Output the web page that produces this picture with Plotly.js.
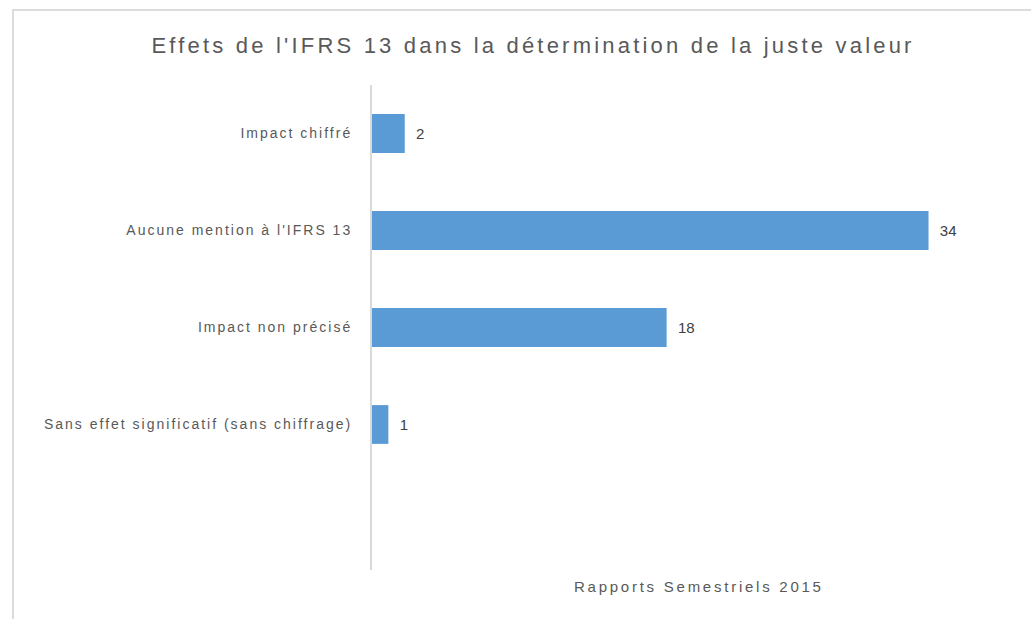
<!DOCTYPE html>
<html>
<head>
<meta charset="utf-8">
<script src="https://cdn.plot.ly/plotly-3.0.1.min.js"></script>
<style>
  html, body { margin: 0; padding: 0; background: #fff; }
  #wrap { position: relative; width: 1031px; height: 619px; overflow: hidden; }
  #chart { position: absolute; left: 0; top: 0; width: 1031px; height: 619px; }
  #frame { position: absolute; left: 12px; top: 9px; width: 1040px; height: 640px;
           border-left: 2px solid #dcdcdc; border-top: 2px solid #dcdcdc; pointer-events: none; }
  .gtitle { letter-spacing: 3.2px; }
  .ytick text { letter-spacing: 2.0px; }
  .annotation-text { letter-spacing: 2.75px; }
</style>
</head>
<body>
<div id="wrap">
  <div id="chart"></div>
  <div id="frame"></div>
</div>
<script>
const categories = [
  "Impact chiffré",
  "Aucune mention à l'IFRS 13",
  "Impact non précisé",
  "Sans effet significatif (sans chiffrage)"
];
const values = [2, 34, 18, 1];
const seriesName = "Rapports Semestriels 2015";
const chartTitle = "Effets de l'IFRS 13 dans la détermination de la juste valeur";

const trace = {
  type: 'bar',
  orientation: 'h',
  x: values,
  y: categories,
  name: seriesName,
  marker: { color: '#5b9bd5' },
  text: values.map(v => '  ' + v),
  textposition: 'outside',
  textfont: { family: 'Liberation Sans, Arial, sans-serif', size: 15, color: '#404040' },
  cliponaxis: false,
  hoverinfo: 'none'
};

const layout = {
  width: 1031,
  height: 619,
  margin: { l: 372, r: 37, t: 85, b: 49 },
  paper_bgcolor: 'rgba(0,0,0,0)',
  plot_bgcolor: 'rgba(0,0,0,0)',
  showlegend: false,
  bargap: 0.6,
  title: {
    text: chartTitle,
    x: 0.517, xanchor: 'center',
    y: 0.927, yanchor: 'middle',
    font: { family: 'Liberation Sans, Arial, sans-serif', size: 22, color: '#595959' }
  },
  xaxis: {
    range: [0, 38],
    visible: false,
    showgrid: false,
    zeroline: false,
    fixedrange: true
  },
  yaxis: {
    type: 'category',
    categoryorder: 'array',
    categoryarray: categories,
    range: [4.5, -0.5],
    showline: true,
    linecolor: '#d9d9d9',
    linewidth: 2,
    showgrid: false,
    zeroline: false,
    ticks: 'outside',
    ticklen: 15,
    tickcolor: 'rgba(0,0,0,0)',
    tickfont: { family: 'Liberation Sans, Arial, sans-serif', size: 14, color: '#595959' },
    automargin: false,
    fixedrange: true
  },
  annotations: [{
    text: seriesName,
    xref: 'paper', yref: 'paper',
    x: 0.526, y: -0.035,
    xanchor: 'center', yanchor: 'middle',
    showarrow: false,
    font: { family: 'Liberation Sans, Arial, sans-serif', size: 15, color: '#595959' }
  }]
};

Plotly.newPlot('chart', [trace], layout, { displayModeBar: false, staticPlot: true });
</script>
</body>
</html>
